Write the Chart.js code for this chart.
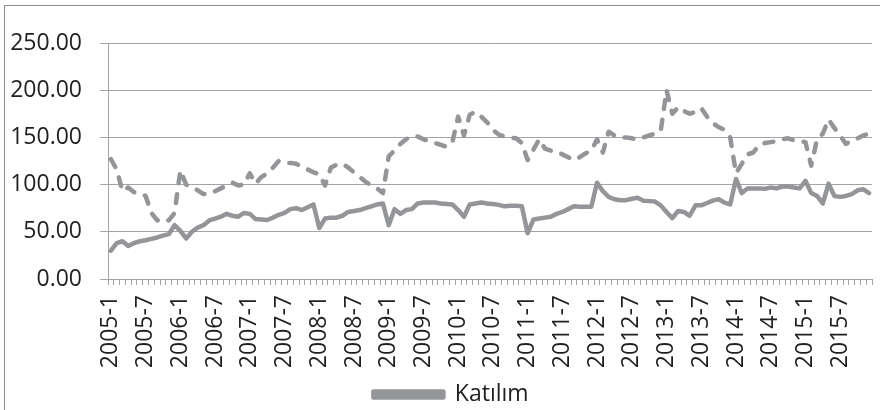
<!DOCTYPE html>
<html>
<head>
<meta charset="utf-8">
<script src="https://cdn.jsdelivr.net/npm/chart.js@4/dist/chart.umd.min.js"></script>
<style>
  html, body { margin: 0; padding: 0; background: #fff; overflow: hidden; }
  #wrap { position: relative; width: 880px; height: 410px; }
  #frame { position: absolute; left: 4px; top: 5px; width: 900px; height: 430px; border: 1px solid #8c8c8c; box-sizing: border-box; pointer-events: none; }
  canvas { position: absolute; left: 0; top: 0; }
</style>
</head>
<body>
<div id="wrap">
  <canvas id="c" width="880" height="410"></canvas>
  <div id="frame"></div>
</div>
<script>
const years = [2005, 2006, 2007, 2008, 2009, 2010, 2011, 2012, 2013, 2014, 2015];
const months = [1, 2, 3, 4, 5, 6, 7, 8, 9, 10, 11, 12];
const categories = [];
years.forEach(y => months.forEach(m => categories.push(y + '-' + m)));

// Solid series (Katılım)
const katilim = [
  30, 38, 40, 35, 38, 40, 41, 42.5, 44, 46, 47.5, 57,
  51, 43, 50, 54.5, 57, 62, 64, 66, 69, 67, 66, 70,
  69, 63.5, 63, 62.5, 65, 68, 70, 74, 75, 73, 76, 79,
  54, 64, 65, 65, 67, 71, 72, 73, 75, 77, 79, 80,
  57, 74, 69, 73, 74, 80, 81, 81, 81, 80, 79.5, 79,
  73, 66, 79, 80, 81, 80, 79.5, 78.5, 77, 77.5, 77.5, 77,
  48.5, 63, 64, 65, 66, 69, 71, 74, 77, 76.5, 76.5, 76.5,
  102, 93, 87, 84.5, 83.5, 83.5, 85, 86, 83, 82.5, 82, 78,
  71, 64.5, 72, 71, 67, 78, 78, 80.5, 83, 84.5, 81, 79,
  106, 91, 96, 96, 96, 95.5, 97, 96, 98, 98, 97, 96,
  104, 91, 88, 80, 101, 88, 87, 88, 90, 94, 95, 91
];

// Dashed series (second index, not named in legend)
const dashed = [
  127, 116, 93, 97, 92, 90, 88, 70, 62, 64, 62, 70,
  115, 100, 97, 94, 90, 90, 93, 96, 99, 102, 99, 100,
  112, 101, 108, 112, 118, 125, 123, 123, 122, 119, 116, 113,
  111, 99, 118, 121, 122, 118, 113, 108, 103, 99, 96, 91,
  130, 136, 143, 148, 151, 151, 148, 146, 144, 142, 140, 145,
  172, 152, 174, 177, 172, 166, 158, 153, 151, 150, 149, 144,
  126, 137, 148, 138, 136, 135, 132, 129, 126, 129, 133, 136,
  148, 134, 156, 152, 150, 150, 149, 148, 150, 152, 154, 157,
  200, 175, 182, 178, 175, 177, 181, 172, 165, 161, 158, 150,
  112, 122, 132, 134, 142, 144, 145, 146, 148, 149, 147, 146,
  145, 120, 148, 154, 169, 160, 152, 143, 147, 149, 152, 154
];

const yTicks = [0, 50, 100, 150, 200, 250];
const labelEvery = 6;

const gray = '#939598';
const gridGray = '#a3a3a3';
const textColor = '#1f1f1f';
const fontFamily = "'Open Sans', 'Noto Sans', sans-serif";

const shiftLegend = {
  id: 'shiftLegend',
  afterUpdate(chart) {
    if (chart.legend) {
      chart.legend.left += 30;
      chart.legend.top += 6;
      chart.legend.bottom += 6;
    }
  }
};

new Chart(document.getElementById('c'), {
  type: 'line',
  plugins: [shiftLegend],
  data: {
    labels: categories,
    datasets: [
      {
        label: 'Katılım',
        data: katilim,
        borderColor: gray,
        backgroundColor: gray,
        borderWidth: 4.5,
        pointRadius: 0,
        tension: 0,
        borderJoinStyle: 'round',
        borderCapStyle: 'round'
      },
      {
        label: '',
        data: dashed,
        borderColor: gray,
        backgroundColor: gray,
        borderWidth: 4.5,
        borderDash: [9, 11],
        borderCapStyle: 'round',
        borderJoinStyle: 'round',
        pointRadius: 0,
        tension: 0
      }
    ]
  },
  options: {
    responsive: false,
    animation: false,
    devicePixelRatio: 1,
    layout: { padding: { top: 43, right: 8, bottom: 0, left: 0 } },
    plugins: {
      tooltip: { enabled: false },
      legend: {
        position: 'bottom',
        labels: {
          filter: (item) => item.datasetIndex === 0,
          boxWidth: 70,
          boxHeight: 6,
          padding: 3,
          color: textColor,
          font: { family: fontFamily, size: 23 }
        }
      }
    },
    scales: {
      x: {
        type: 'category',
        offset: true,
        grid: { display: true, drawOnChartArea: false, drawTicks: true, tickLength: 6, color: gridGray, offset: true },
        border: { display: true, color: gridGray, width: 1 },
        ticks: {
          autoSkip: false,
          maxRotation: 90,
          minRotation: 90,
          padding: 10,
          color: textColor,
          font: { family: fontFamily, size: 23 },
          callback: function(value, index) { return index % labelEvery === 0 ? categories[index] : ''; }
        },
        afterFit: (s) => { s.height = 95; s.paddingLeft = 0; s.paddingRight = 0; }
      },
      y: {
        min: yTicks[0],
        max: yTicks[yTicks.length - 1],
        grid: { color: gridGray, lineWidth: 1, drawTicks: true, tickLength: 8 },
        border: { display: true, color: gridGray, width: 1 },
        afterBuildTicks: (s) => { s.ticks = yTicks.map(v => ({ value: v })); },
        ticks: {
          padding: 18,
          color: textColor,
          font: { family: fontFamily, size: 23 },
          callback: (v) => Number(v).toFixed(2)
        },
        afterFit: (s) => { s.width = 108; }
      }
    }
  }
});
</script>
</body>
</html>
